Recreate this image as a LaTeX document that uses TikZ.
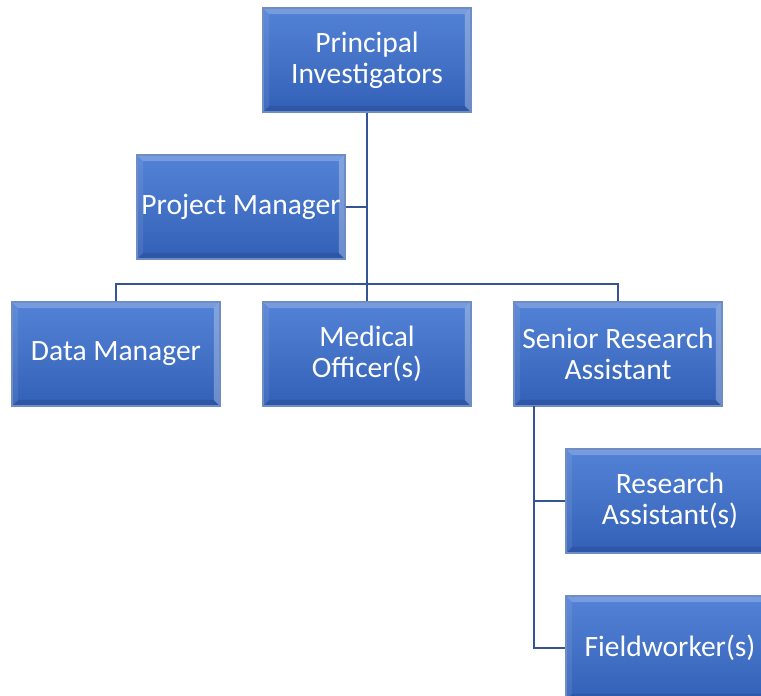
\documentclass[tikz,border=0pt]{standalone}
\usepackage{fontspec}
\setmainfont{Carlito}
\usepackage{tikz}
\usetikzlibrary{calc}

\definecolor{boxtop}{RGB}{82,130,214}
\definecolor{boxmid}{RGB}{68,114,198}
\definecolor{boxbot}{RGB}{50,96,184}
\definecolor{boxedge}{RGB}{112,140,196}
\definecolor{linkblue}{RGB}{52,84,150}

\tikzset{
  orgbox/.style={rectangle, minimum width=4.16cm, minimum height=2.08cm,
    inner sep=0pt, align=center, text=white,
    font=\fontsize{16.8}{17.8}\selectfont,
    top color=boxtop, bottom color=boxbot, middle color=boxmid,
    draw=boxedge, line width=0.6pt,
    path picture={
      % bevel: light top and right, a little darker along the bottom
      \fill[white, opacity=0.22]
        (path picture bounding box.north west) --
        (path picture bounding box.north east) --
        ($(path picture bounding box.north east)+(-0.12cm,-0.12cm)$) --
        ($(path picture bounding box.north west)+(0.12cm,-0.12cm)$) -- cycle;
      \fill[white, opacity=0.08]
        (path picture bounding box.north west) --
        ($(path picture bounding box.north west)+(0.12cm,-0.12cm)$) --
        ($(path picture bounding box.south west)+(0.12cm,0.12cm)$) --
        (path picture bounding box.south west) -- cycle;
      \fill[black, opacity=0.10]
        (path picture bounding box.south west) --
        ($(path picture bounding box.south west)+(0.12cm,0.12cm)$) --
        ($(path picture bounding box.south east)+(-0.12cm,0.12cm)$) --
        (path picture bounding box.south east) -- cycle;
      \fill[white, opacity=0.28]
        (path picture bounding box.north east) --
        (path picture bounding box.south east) --
        ($(path picture bounding box.south east)+(-0.12cm,0.12cm)$) --
        ($(path picture bounding box.north east)+(-0.12cm,-0.12cm)$) -- cycle;
    }},
  link/.style={draw=linkblue, line width=1.3pt}
}

\begin{document}
\begin{tikzpicture}[x=0.02cm, y=-0.02cm]
  \useasboundingbox (0,0) rectangle (761,696);
  \clip (0,0) rectangle (761,696);

  % top of the chart
  \node[orgbox] (pi) at (367,60) {Principal\\Investigators};
  \node[orgbox] (pm) at (241,207) {Project Manager};

  % second row
  \node[orgbox] (dm) at (116,354) {Data Manager};
  \node[orgbox] (mo) at (367,354) {Medical\\Officer(s)};
  \node[orgbox] (sra) at (618,354) {Senior Research\\Assistant};

  % under the senior research assistant
  \node[orgbox] (ra) at (670,501) {Research\\Assistant(s)};
  \node[orgbox] (fw) at (670,648) {Fieldworker(s)};

  \coordinate (pmjoin) at (367,207);
  \coordinate (bar) at (367,284);
  \coordinate (barl) at (116,284);
  \coordinate (barr) at (618,284);
  \coordinate (stem) at (534,406);
  \coordinate (rajoin) at (534,501);
  \coordinate (fwjoin) at (534,648);

  % connectors
  \draw[link] (pi.south) -- (bar);
  \draw[link] (pm.east) -- (pmjoin);
  \draw[link] (dm.north) -- (barl) -- (barr) -- (sra.north);
  \draw[link] (bar) -- (mo.north);
  \draw[link] (stem) -- (fwjoin) -- (fw.west);
  \draw[link] (rajoin) -- (ra.west);
\end{tikzpicture}
\end{document}
